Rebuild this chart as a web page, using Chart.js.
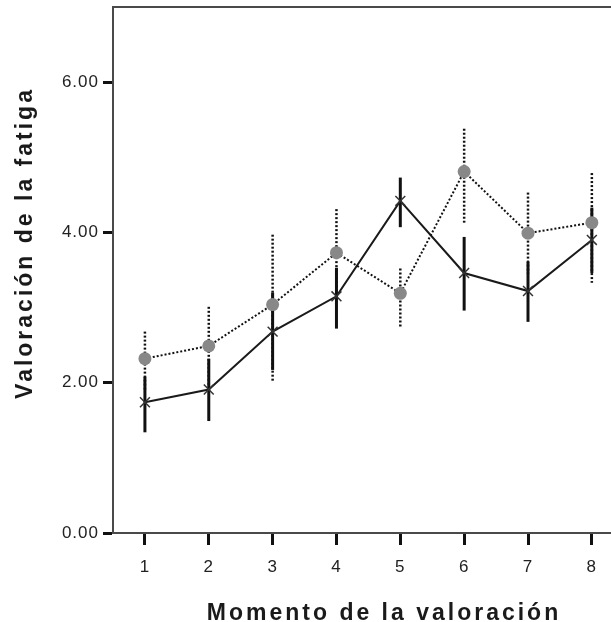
<!DOCTYPE html>
<html>
<head>
<meta charset="utf-8">
<script src="https://cdn.jsdelivr.net/npm/chart.js@4/dist/chart.umd.min.js"></script>
<style>
  body { margin: 0; background: #fff; }
  #wrap { width: 611px; height: 622px; }
</style>
</head>
<body>
<div id="wrap"><canvas id="chart" width="611" height="622"></canvas></div>
<script>
// momentos de la valoracion (eje x)
var moments = [1, 2, 3, 4, 5, 6, 7, 8];
var yTicks = [0, 2, 4, 6];

// serie con linea continua y marcas X
var solidMean = [1.74, 1.91, 2.68, 3.15, 4.42, 3.46, 3.22, 3.90];
var solidHi   = [2.08, 2.32, 3.20, 3.53, 4.73, 3.94, 3.61, 4.33];
var solidLo   = [1.34, 1.49, 2.17, 2.72, 4.07, 2.96, 2.81, 3.46];

// serie punteada con circulos grises
var dotMean = [2.32, 2.49, 3.04, 3.73, 3.19, 4.81, 3.99, 4.13];
var dotHi   = [2.68, 3.01, 3.97, 4.31, 3.52, 5.38, 4.53, 4.79];
var dotLo   = [1.88, 1.90, 2.00, 3.15, 2.74, 4.13, 3.45, 3.33];

function toPoints(xs, ys) {
    var out = [];
    for (var i = 0; i < xs.length; ++i)
        out.push({ x: xs[i], y: ys[i] });
    return out;
}

var bars = [
    { hi: solidHi, lo: solidLo, dash: [], width: 3 },
    { hi: dotHi, lo: dotLo, dash: [2, 2], width: 2.5 }
];

var errorBars = {
    id: 'errorBars',
    beforeDatasetsDraw: function (chart) {
        var ctx = chart.ctx, xs = chart.scales.x, ys = chart.scales.y;
        ctx.save();
        ctx.strokeStyle = '#111';
        for (var b = 0; b < bars.length; ++b) {
            ctx.lineWidth = bars[b].width;
            ctx.setLineDash(bars[b].dash);
            for (var i = 0; i < moments.length; ++i) {
                var px = xs.getPixelForValue(moments[i]);
                ctx.beginPath();
                ctx.moveTo(px, ys.getPixelForValue(bars[b].hi[i]));
                ctx.lineTo(px, ys.getPixelForValue(bars[b].lo[i]));
                ctx.stroke();
            }
        }
        ctx.restore();
    }
};

var axisTitles = {
    id: 'axisTitles',
    beforeDraw: function (chart) {
        chart.ctx.letterSpacing = '1px';
    },
    afterDraw: function (chart) {
        var ctx = chart.ctx;
        ctx.save();
        ctx.fillStyle = '#1a1a1a';
        ctx.font = 'bold 23px "Liberation Sans", Arial, sans-serif';
        ctx.letterSpacing = '3px';
        ctx.textAlign = 'center';
        ctx.textBaseline = 'alphabetic';
        ctx.fillText('Momento de la valoración', 384, 620);
        ctx.translate(32, 243);
        ctx.rotate(-Math.PI / 2);
        ctx.fillText('Valoración de la fatiga', 0, 0);
        ctx.restore();
    }
};

function noPad(s) {
    s.paddingLeft = 0; s.paddingRight = 0;
    s.paddingTop = 0; s.paddingBottom = 0;
}

var tickFont = { family: '"Liberation Sans", Arial, sans-serif', size: 17 };

new Chart(document.getElementById('chart'), {
    type: 'line',
    data: {
        datasets: [{
            data: toPoints(moments, dotMean),
            borderColor: '#111',
            borderWidth: 2,
            borderDash: [2, 2],
            pointStyle: 'circle',
            pointRadius: 6.5,
            pointBackgroundColor: '#888',
            pointBorderColor: '#888',
            pointBorderWidth: 0,
            tension: 0,
            fill: false
        }, {
            data: toPoints(moments, solidMean),
            borderColor: '#1a1a1a',
            borderWidth: 2,
            pointStyle: 'crossRot',
            pointRadius: 7,
            pointBorderColor: '#333',
            pointBorderWidth: 1.5,
            tension: 0,
            fill: false
        }]
    },
    options: {
        responsive: false,
        animation: false,
        layout: { autoPadding: false, padding: { top: 7, right: 0, left: 0, bottom: 0 } },
        plugins: { legend: { display: false }, tooltip: { enabled: false } },
        scales: {
            x: {
                type: 'linear',
                position: 'bottom',
                min: 0.5,
                max: 8.3,
                afterBuildTicks: function (s) { s.ticks = moments.map(function (v) { return { value: v }; }); },
                afterFit: function (s) { s.height = 89; noPad(s); },
                grid: { drawOnChartArea: false, tickLength: 12, tickWidth: 3, tickColor: '#111' },
                border: { color: '#4a4a4a', width: 2 },
                ticks: { font: tickFont, color: '#222', padding: 12 }
            },
            xTop: {
                type: 'linear',
                position: 'top',
                min: 0.5,
                max: 8.3,
                afterFit: function (s) { s.height = 0; noPad(s); },
                grid: { display: false },
                border: { color: '#4a4a4a', width: 2 },
                ticks: { display: false }
            },
            y: {
                min: 0,
                max: 7,
                afterBuildTicks: function (s) { s.ticks = yTicks.map(function (v) { return { value: v }; }); },
                afterFit: function (s) { s.width = 113; noPad(s); },
                grid: { drawOnChartArea: false, tickLength: 10, tickWidth: 3, tickColor: '#111' },
                border: { color: '#4a4a4a', width: 2 },
                ticks: {
                    font: tickFont,
                    color: '#222',
                    padding: 4,
                    callback: function (v) { return v.toFixed(2); }
                }
            }
        }
    },
    plugins: [errorBars, axisTitles]
});
</script>
</body>
</html>
